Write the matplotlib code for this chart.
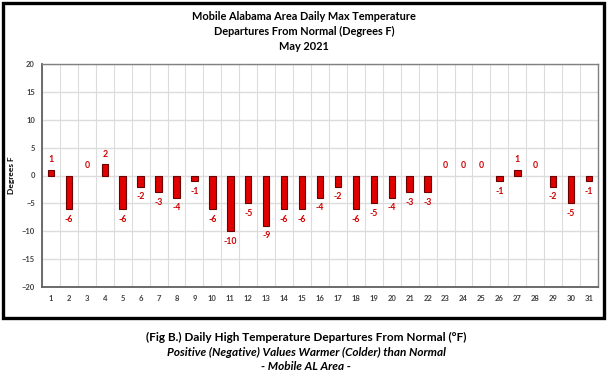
import matplotlib
matplotlib.use("Agg")
import matplotlib.pyplot as plt
from matplotlib.patches import Rectangle
import numpy as np

days = list(range(1, 32))
departures = [1, -6, 0, 2, -6, -2, -3, -4, -1, -6, -10, -5, -9, -6, -6,
              -4, -2, -6, -5, -4, -3, -3, 0, 0, 0, -1, 1, 0, -2, -5, -1]
yticks = [-20, -15, -10, -5, 0, 5, 10, 15, 20]
title_lines = ["Mobile Alabama Area Daily Max Temperature",
               "Departures From Normal (Degrees F)", "May 2021"]
caption_lines = ["(Fig B.) Daily High Temperature Departures From Normal (°F)",
                 "Positive (Negative) Values Warmer (Colder) than Normal",
                 "- Mobile AL Area -"]

FONT = "Lato"
W, H = 608, 383
fig = plt.figure(figsize=(W / 100, H / 100), dpi=100)
fig.patch.set_facecolor("white")

# outer frame
fig.add_artist(Rectangle((2.5 / W, 1 - 317.5 / H), 601 / W, 315 / H,
                         transform=fig.transFigure, fill=False,
                         edgecolor="black", linewidth=2.4, zorder=10))

ax = fig.add_axes([42 / W, 1 - 287 / H, (598 - 42) / W, (287 - 64) / H])
lws = [0.8 if v != 0 else 0 for v in departures]
ax.bar(days, departures, width=0.36, color="#e00000",
       edgecolor="#6a0000", linewidth=lws, zorder=3)

ax.set_xlim(0.5, 31.5)
ax.set_ylim(-20, 20)
ax.set_yticks(yticks)
ax.set_xticks(days)
ax.set_xticks(np.arange(0.5, 32, 1), minor=True)
ax.grid(True, which="minor", axis="x", color="#dcdcdc", linewidth=0.8, zorder=0)
ax.grid(True, which="major", axis="y", color="#dcdcdc", linewidth=1.0, zorder=0)
ax.grid(False, which="major", axis="x")
ax.tick_params(which="both", length=0)
ax.tick_params(axis="x", pad=6)
ax.tick_params(axis="y", pad=5)
for lab in ax.get_xticklabels() + ax.get_yticklabels():
    lab.set_fontsize(5.5)
    lab.set_fontweight("bold")
    lab.set_family(FONT)
    lab.set_color("#404040")
for s in ax.spines.values():
    s.set_color("#808080")
    s.set_linewidth(1.0)
ax.spines["left"].set_color("#606060")
ax.spines["bottom"].set_color("#606060")
ax.spines["left"].set_linewidth(1.3)
ax.spines["bottom"].set_linewidth(1.3)

ax.set_ylabel("Degrees F", fontsize=6, fontweight="bold", family=FONT)
ax.yaxis.set_label_coords((15 - 42) / (598 - 42), 0.5)

for d, v in zip(days, departures):
    if v >= 0:
        ax.annotate(str(v), (d, v), xytext=(0, 4), textcoords="offset points",
                    ha="center", va="bottom", color="#d00000", fontsize=6.3,
                    fontweight="bold", family=FONT)
    else:
        ax.annotate(str(v), (d, v), xytext=(0, -4), textcoords="offset points",
                    ha="center", va="top", color="#d00000", fontsize=6.3,
                    fontweight="bold", family=FONT)

for i, t in enumerate(title_lines):
    fig.text(304 / W, 1 - (16 + 15 * i) / H, t, ha="center", va="center",
             fontsize=7.9, fontweight="bold", family=FONT)

styles = [("bold", "normal"), ("bold", "italic"), ("bold", "italic")]
for i, t in enumerate(caption_lines):
    fig.text(306 / W, 1 - (337 + 15 * i) / H, t, ha="center", va="center",
             fontsize=8.5, fontweight=styles[i][0], fontstyle=styles[i][1],
             family=FONT)

fig.savefig("out.png", dpi=100, facecolor="white")
